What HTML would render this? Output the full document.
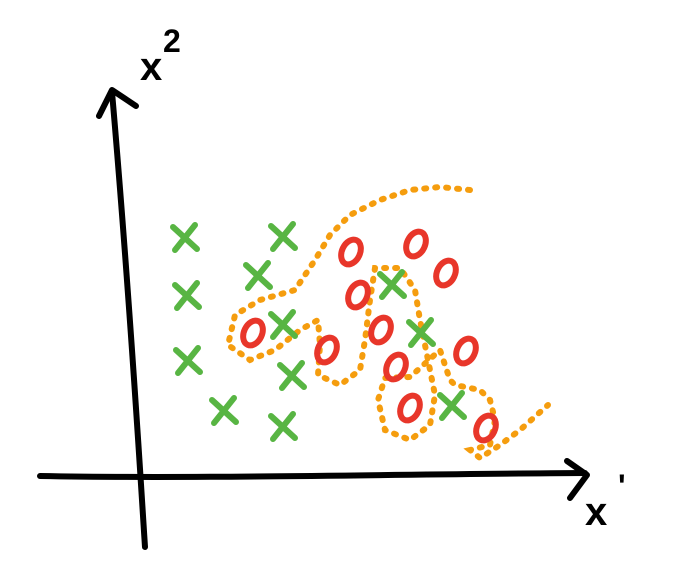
<!DOCTYPE html>
<html><head><meta charset="utf-8"><style>
html,body{margin:0;padding:0;background:#fff;}
svg{display:block;}
text{font-family:"Liberation Sans",sans-serif;font-weight:bold;fill:#000;}
</style></head><body>
<svg id="chart" width="684" height="573" viewBox="0 0 684 573">
  <g id="axes">
    <path d="M145,547 C140,470 130,300 112,92" stroke="#000" stroke-width="6" fill="none" stroke-linecap="round"/>
    <path d="M99,116 L112,90 L136,106" stroke="#000" stroke-width="6" fill="none" stroke-linecap="round" stroke-linejoin="round"/>
    <path d="M40,476 C200,479 400,474 585,473" stroke="#000" stroke-width="6" fill="none" stroke-linecap="round"/>
    <path d="M567,461 L587,475 L570,498" stroke="#000" stroke-width="6" fill="none" stroke-linecap="round" stroke-linejoin="round"/>
    <text x="140" y="80" font-size="40">x</text>
    <text x="163" y="52" font-size="32">2</text>
    <text x="585" y="525" font-size="40">x</text>
    <text x="618" y="497" font-size="32">'</text>
  </g>
  <path id="boundary" d="" stroke="#f59d0e" stroke-width="6" fill="none" stroke-linecap="round" stroke-dasharray="2 9"/>
  <g id="marks"></g>
</svg>
<script>
// data coordinates: x = px from origin (140), y = px up from origin (477)
const greenX = [45, 47, 48, 84, 143, 143, 118, 143, 152, 252, 281, 312];
const greenY = [239, 181, 116, 66, 50, 240, 201, 152, 101, 192, 144, 71];
const redX = [211, 276, 306, 218, 113, 187, 241, 256, 326, 270, 346];
const redY = [225, 233, 204, 182, 144, 127, 147, 110, 126, 69, 49];
const boundaryX = [330,300,270,240,210,190,175,155,120,95,88,110,135,160,178,180,178,200,220,225,230,235,260,275,280,285,290,295,290,270,245,238,245,270,300,310,315,340,350,355,350,330,340,360,380,408];
const boundaryY = [287,290,287,277,262,242,217,187,177,162,132,117,127,147,157,132,102,92,107,137,177,209,209,187,157,132,107,82,52,37,47,77,99,100,127,97,92,87,77,57,32,27,19,32,47,72];

const ox = 140, oy = 477;
const sx = v => ox + v;
const sy = v => oy - v;
const g = document.getElementById('marks');
const NS = 'http://www.w3.org/2000/svg';

let d = '';
for (let i = 0; i < boundaryX.length; i++) {
  d += (i ? ' L' : 'M') + sx(boundaryX[i]) + ',' + sy(boundaryY[i]);
}
document.getElementById('boundary').setAttribute('d', d);

for (let i = 0; i < greenX.length; i++) {
  const cx = sx(greenX[i]), cy = sy(greenY[i]);
  const p = document.createElementNS(NS, 'path');
  p.setAttribute('d', `M${cx-12},${cy-11} L${cx+12},${cy+11} M${cx+10},${cy-13} L${cx-10},${cy+12}`);
  p.setAttribute('stroke', '#58b543');
  p.setAttribute('stroke-width', '6');
  p.setAttribute('stroke-linecap', 'round');
  p.setAttribute('fill', 'none');
  
  
  g.appendChild(p);
}
for (let i = 0; i < redX.length; i++) {
  const cx = sx(redX[i]), cy = sy(redY[i]);
  const e = document.createElementNS(NS, 'ellipse');
  e.setAttribute('cx', cx);
  e.setAttribute('cy', cy);
  e.setAttribute('rx', 9);
  e.setAttribute('ry', 13);
  e.setAttribute('transform', `rotate(25 ${cx} ${cy})`);
  e.setAttribute('stroke', '#e8362a');
  e.setAttribute('stroke-width', '6');
  e.setAttribute('fill', 'none');
  
  
  g.appendChild(e);
}
</script>
</body></html>
